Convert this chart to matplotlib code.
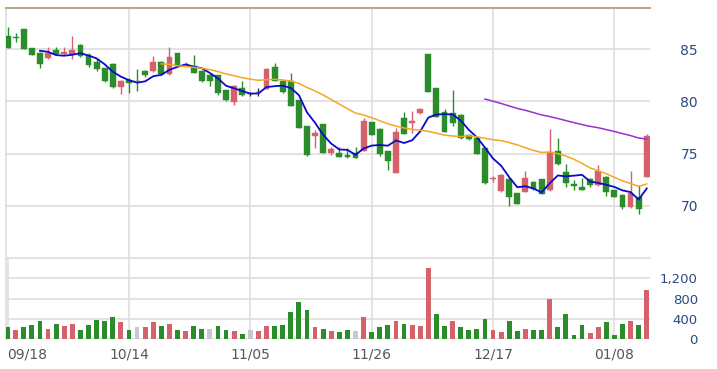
import numpy as np
import pandas as pd
import matplotlib
matplotlib.use('Agg')
import matplotlib.pyplot as plt

# daily OHLC (80 sessions)
opens = [86.24, 86.15, 86.9, 85.07, 84.6, 84.1, 84.9, 84.5, 84.5, 85.4,
         84.4, 83.75, 83.15, 83.6, 81.4, 82.05, 82.0, 82.9, 82.9, 83.8,
         82.6, 84.6, 83.5, 83.4, 82.9, 82.55, 82.5, 81.05, 79.95, 81.3,
         80.7, 80.9, 81.2, 83.3, 81.95, 81.9, 80.1, 77.6, 76.7, 77.8,
         75.1, 75.1, 74.85, 75.1, 75.3, 78.0, 77.4, 75.25, 73.2, 78.4,
         77.9, 78.85, 84.5, 81.25, 79.0, 78.85, 78.7, 76.8, 76.5, 75.5,
         72.55, 71.4, 72.6, 71.2, 71.35, 72.3, 72.55, 71.5, 75.3, 73.25,
         72.1, 71.85, 72.6, 72.0, 72.8, 71.5, 71.05, 69.9, 70.9, 72.8]
highs = [87.13, 86.5, 86.95, 85.1, 84.7, 85.2, 85.15, 85.2, 86.2, 85.5,
         84.65, 84.0, 83.2, 83.65, 82.0, 82.2, 83.05, 83.0, 84.3, 83.85,
         85.2, 84.65, 83.8, 84.4, 82.95, 82.6, 82.55, 81.1, 81.6, 81.9,
         80.9, 81.25, 83.15, 83.7, 82.0, 82.7, 80.15, 77.65, 77.25, 77.85,
         75.6, 75.6, 75.5, 75.6, 78.4, 78.05, 77.45, 75.3, 77.5, 79.0,
         79.1, 79.4, 84.55, 81.3, 79.25, 81.1, 78.75, 76.85, 76.55, 75.55,
         72.9, 73.05, 72.65, 71.25, 73.3, 72.35, 72.6, 77.4, 76.45, 74.05,
         72.5, 72.7, 72.7, 73.9, 72.85, 71.55, 71.1, 73.35, 72.0, 76.85]
lows = [85.05, 85.7, 85.0, 84.4, 83.2, 84.05, 84.45, 84.45, 84.05, 84.2,
        83.3, 82.9, 81.85, 81.3, 80.7, 80.8, 81.0, 82.35, 82.85, 82.55,
        82.55, 83.35, 83.45, 82.7, 81.85, 81.5, 80.65, 80.05, 79.65, 80.55,
        80.5, 80.5, 81.15, 81.9, 80.8, 79.55, 77.45, 74.8, 75.55, 75.05,
        74.85, 74.65, 74.6, 74.55, 75.25, 76.75, 74.8, 73.4, 73.15, 76.85,
        76.95, 78.8, 80.85, 78.5, 77.05, 77.6, 76.4, 76.35, 74.95, 72.1,
        72.3, 71.35, 70.0, 70.15, 71.3, 71.55, 71.1, 71.45, 73.95, 71.8,
        71.5, 71.5, 71.8, 71.95, 71.0, 70.85, 69.7, 69.85, 69.2, 72.75]
closes = [85.12, 86.05, 85.0, 84.45, 83.55, 84.6, 84.5, 84.7, 84.9, 84.3,
          83.5, 83.1, 81.9, 81.35, 81.95, 81.8, 81.95, 82.5, 83.8, 82.6,
          84.2, 83.4, 83.6, 82.75, 81.9, 81.9, 80.8, 80.1, 81.5, 80.6,
          80.7, 80.9, 83.1, 81.95, 80.85, 79.6, 77.5, 74.85, 76.95, 75.1,
          75.4, 74.7, 74.65, 74.6, 78.1, 76.8, 75.0, 74.3, 77.1, 76.9,
          78.1, 79.25, 80.9, 78.55, 77.1, 77.9, 76.45, 76.4, 75.0, 72.15,
          72.7, 73.0, 70.9, 70.2, 72.65, 71.6, 71.15, 75.2, 74.0, 72.2,
          71.95, 71.55, 72.0, 73.3, 71.35, 70.9, 69.9, 71.2, 69.7, 76.7]

volume = [236, 184, 236, 282, 361, 204, 302, 256, 302, 184,
          282, 381, 361, 426, 335, 184, 229, 229, 335, 256,
          302, 184, 157, 256, 204, 204, 256, 184, 157, 105,
          184, 157, 256, 256, 282, 531, 728, 578, 236, 204,
          157, 131, 184, 157, 426, 138, 236, 282, 361, 302,
          282, 256, 1397, 499, 256, 361, 236, 184, 204, 400,
          184, 131, 361, 157, 204, 184, 184, 794, 229, 499,
          86, 282, 111, 229, 335, 86, 302, 361, 282, 971]
# u = up vs previous close, d = down, n = unchanged
vol_dir = list('duddduduud' 'ddddudnuud' 'ududdnddud' 'nuudddddud'
               'uddnudddud' 'uuuddudddd' 'uudduddudd' 'dduudddudu')

date_pos = [0, 15, 30, 45, 60, 75]
date_labels = ['09/18', '10/14', '11/05', '11/26', '12/17', '01/08']

up_col = '#d5626a'
dn_col = '#2a8c2a'
flat_col = '#333333'
grid_col = '#dedede'
tick_col = '#2b4a80'

n = len(closes)
x = np.arange(n)
o = np.array(opens)
c = np.array(closes)
s_close = pd.Series(closes)
ma5 = s_close.rolling(5).mean()
ma20 = s_close.rolling(20).mean()
ma60 = s_close.rolling(60).mean()

fig = plt.figure(figsize=(7.17, 3.69), dpi=100)
ax1 = fig.add_axes([6/717, 1-258/369, 644/717, 250/369])
ax2 = fig.add_axes([6/717, 1-339/369, 644/717, 81/369])

#### price panel
cols = [up_col if c[i] > o[i] else (dn_col if c[i] < o[i] else flat_col) for i in range(n)]
ax1.vlines(x, lows, highs, colors=cols, linewidth=1.0, zorder=3)
body_h = np.abs(c - o)
body_b = np.minimum(c, o)
ax1.bar(x, np.maximum(body_h, 0.08), bottom=body_b - np.where(body_h < 0.08, 0.04, 0), width=0.72,
        color=cols, edgecolor=cols, linewidth=0.3, zorder=4)

ax1.plot(x, ma5, color='#0a0ac8', linewidth=1.3, zorder=5)
ax1.plot(x, ma20, color='#f5a623', linewidth=1.1, zorder=5)
ax1.plot(x, ma60, color='#9b30d0', linewidth=1.1, zorder=5)

ax1.set_xlim(-0.2, 79.4)
ax1.set_ylim(65.03, 88.92)
ax1.set_yticks([70, 75, 80, 85])
ax1.set_xticks(date_pos[1:])
ax1.grid(True, color=grid_col, linewidth=1.2, zorder=0)
ax1.set_axisbelow(True)
ax1.tick_params(axis='x', length=0, labelbottom=False)
ax1.yaxis.tick_right()
ax1.tick_params(axis='y', length=0, labelsize=10, labelcolor=tick_col, pad=34.5)
for lab in ax1.get_yticklabels():
    lab.set_horizontalalignment('right')
for sp in ['right', 'bottom']:
    ax1.spines[sp].set_visible(False)
ax1.spines['left'].set_color(grid_col)
ax1.spines['left'].set_linewidth(1.2)
ax1.spines['top'].set_color('#bba98f')
ax1.spines['top'].set_linewidth(1.5)

#### volume panel
vcols = [up_col if d == 'u' else (dn_col if d == 'd' else '#c8c8d0') for d in vol_dir]
ax2.bar(x, volume, width=0.6, color=vcols, zorder=3)
ax2.set_xlim(-0.2, 79.4)
ax2.set_ylim(0, 1600)
ax2.set_yticks([0, 400, 800, 1200])
ax2.set_yticklabels(['0', '400', '800', '1,200'])
ax2.set_xticks(date_pos)
ax2.set_xticklabels(date_labels)
ax2.grid(True, color=grid_col, linewidth=1.2, zorder=0)
ax2.set_axisbelow(True)
ax2.yaxis.tick_right()
ax2.tick_params(axis='y', length=0, labelsize=9.5, labelcolor=tick_col, pad=34.5)
for lab in ax2.get_yticklabels():
    lab.set_horizontalalignment('right')
ax2.tick_params(axis='x', length=0, labelsize=10, labelcolor='#555560', pad=6)
ax2.get_xticklabels()[0].set_horizontalalignment('left')
for sp in ['right', 'bottom']:
    ax2.spines[sp].set_visible(False)
ax2.spines['left'].set_color(grid_col)
ax2.spines['left'].set_linewidth(1.2)
ax2.spines['top'].set_color(grid_col)
ax2.spines['top'].set_linewidth(1.2)

plt.savefig('out.png', dpi=100)
